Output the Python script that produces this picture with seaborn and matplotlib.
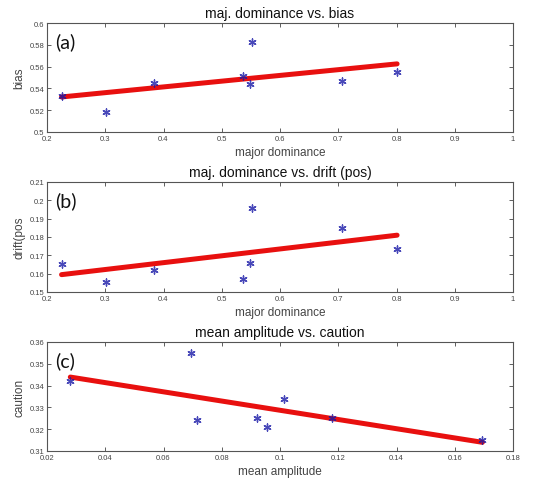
import matplotlib
matplotlib.use("Agg")
import matplotlib.pyplot as plt
import seaborn as sns
import numpy as np
import pandas as pd

# Data
dominance = [0.225, 0.302, 0.383, 0.537, 0.549, 0.552, 0.706, 0.801]
bias = [0.533, 0.518, 0.545, 0.551, 0.544, 0.583, 0.547, 0.555]
drift_pos = [0.165, 0.1555, 0.162, 0.157, 0.166, 0.196, 0.185, 0.1735]
amplitude = [0.028, 0.0695, 0.0715, 0.092, 0.0955, 0.1015, 0.118, 0.1695]
caution = [0.342, 0.355, 0.324, 0.325, 0.321, 0.334, 0.325, 0.315]

titles = ["maj. dominance vs. bias", "maj. dominance vs. drift (pos)", "mean amplitude vs. caution"]
xlabels = ["major dominance", "major dominance", "mean amplitude"]
ylabels = ["bias", "drift(pos", "caution"]
panel_labels = ["(a)", "(b)", "(c)"]
xticks_list = [[0.2, 0.3, 0.4, 0.5, 0.6, 0.7, 0.8, 0.9, 1.0],
               [0.2, 0.3, 0.4, 0.5, 0.6, 0.7, 0.8, 0.9, 1.0],
               [0.02, 0.04, 0.06, 0.08, 0.1, 0.12, 0.14, 0.16, 0.18]]
xtick_labels = [["0.2", "0.3", "0.4", "0.5", "0.6", "0.7", "0.8", "0.9", "1"],
                ["0.2", "0.3", "0.4", "0.5", "0.6", "0.7", "0.8", "0.9", "1"],
                ["0.02", "0.04", "0.06", "0.08", "0.1", "0.12", "0.14", "0.16", "0.18"]]
yticks_list = [[0.5, 0.52, 0.54, 0.56, 0.58, 0.6],
               [0.15, 0.16, 0.17, 0.18, 0.19, 0.2, 0.21],
               [0.31, 0.32, 0.33, 0.34, 0.35, 0.36]]
ytick_labels = [["0.5", "0.52", "0.54", "0.56", "0.58", "0.6"],
                ["0.15", "0.16", "0.17", "0.18", "0.19", "0.2", "0.21"],
                ["0.31", "0.32", "0.33", "0.34", "0.35", "0.36"]]

sns.set_style("ticks")
plt.rcParams['font.family'] = ['Liberation Sans', 'DejaVu Sans']
plt.rcParams['xtick.direction'] = 'in'
plt.rcParams['ytick.direction'] = 'in'

fig = plt.figure(figsize=(5.41, 4.81), dpi=100)
left = 47 / 541
width = (513 - 47) / 541
tops = [24, 183, 343]
bottoms = [133, 293, 452]

datasets = [(dominance, bias), (dominance, drift_pos), (amplitude, caution)]
for i, (xs, ys) in enumerate(datasets):
    b = 1 - bottoms[i] / 481
    h = (bottoms[i] - tops[i]) / 481
    ax = fig.add_axes([left, b, width, h])
    df = pd.DataFrame({"x": xs, "y": ys})
    sns.regplot(data=df, x="x", y="y", ax=ax, ci=None, truncate=True,
                marker=(6, 2, 0),
                scatter_kws=dict(color="#1a1aa8", s=26, linewidths=1.0, zorder=3),
                line_kws=dict(color="#e8100f", linewidth=3.6, zorder=2))
    ax.set_xlim(xticks_list[i][0], xticks_list[i][-1])
    ax.set_ylim(yticks_list[i][0], yticks_list[i][-1])
    ax.set_xticks(xticks_list[i])
    ax.set_xticklabels(xtick_labels[i])
    ax.set_yticks(yticks_list[i])
    ax.set_yticklabels(ytick_labels[i])
    ax.tick_params(axis='both', labelsize=5.5, colors="#444444", length=3,
                   top=True, right=True, width=0.6, pad=2)
    for s in ax.spines.values():
        s.set_color("#555555")
        s.set_linewidth(0.8)
    ax.set_title(titles[i], fontsize=10, pad=4, color="#111111")
    ax.set_xlabel(xlabels[i], fontsize=8.5, color="#444444", labelpad=3)
    ax.set_ylabel(ylabels[i], fontsize=8.5, color="#444444", labelpad=3)
    ax.text(0.018, 0.83, panel_labels[i], transform=ax.transAxes, fontsize=14,
            family=['Lato', 'DejaVu Sans'], color="#111111", va='center', ha='left')

fig.savefig("out.png", dpi=100)
